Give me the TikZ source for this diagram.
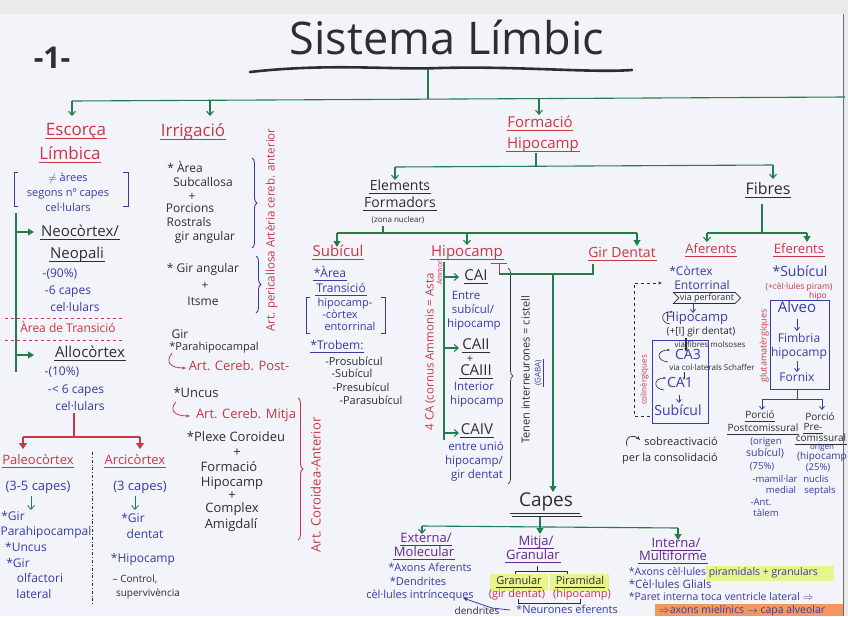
\documentclass[tikz,border=0pt]{standalone}
\usepackage{fontspec}
\setmainfont{Open Sans}
\usetikzlibrary{arrows.meta,decorations.pathreplacing,shapes.symbols}
\definecolor{rd}{RGB}{200,55,70}
\definecolor{bl}{RGB}{55,60,165}
\definecolor{gn}{RGB}{35,125,75}
\definecolor{bk}{RGB}{45,45,50}
\definecolor{pu}{RGB}{95,40,140}
\definecolor{paper}{RGB}{243,243,250}
\definecolor{edgeg}{RGB}{232,234,236}
\definecolor{hl}{RGB}{232,245,140}
\definecolor{og}{RGB}{245,150,95}
\newcommand\fsz[1]{\fontsize{#1}{#1}\selectfont}
\begin{document}
\begin{tikzpicture}[x=1pt,y=-1pt,
  base/.style={inner sep=0.6pt, text height=.72em, text depth=.2em},
  tR/.style={base,text=rd}, tB/.style={base,text=bl}, tK/.style={base,text=bk}, tP/.style={base,text=pu},
  ul/.style={append after command={(\tikzlastnode.south west) edge[draw=#1,line width=.7pt] (\tikzlastnode.south east)}},
  gl/.style={draw=gn,line width=1.1pt},
  ga/.style={gl,-{Triangle[length=6pt,width=7pt]}},
  gao/.style={gl,-{Straight Barb[length=4pt,width=7pt]}},
  rl/.style={draw=rd,line width=1.1pt},
  ra/.style={rl,-{Triangle[length=6pt,width=8pt]}},
  bln/.style={draw=bl,line width=.8pt},
  bla/.style={bln,-{Straight Barb[length=3pt,width=5pt]}},
  kln/.style={draw=bk,line width=.7pt},
  ka/.style={kln,-{Straight Barb[length=3pt,width=5pt]}},
  brR/.style={decorate,decoration={brace,amplitude=5pt},line width=.9pt},
]
\useasboundingbox (0,0) rectangle (848,616);
\fill[edgeg] (0,0) rectangle (848,616);
\fill[paper] (0,14) rectangle (843,616);
\draw[bk!70,line width=1pt] (843,14) -- (843,616);

% ---------- title ----------
\node[tK,font=\fsz{45}] (title) at (447,52) {Sistema Límbic};
\node[tK,font=\bfseries\fsz{30}] (one) at (52,66) {-1-};
\draw[bk,line width=2.6pt,line cap=round] (250,72) .. controls (330,63) and (390,70) .. (440,68) .. controls (520,66) and (590,73) .. (632,70);
\coordinate (t0) at (428,69);
\coordinate (t1) at (428,99);
\draw[gl] (t0) -- (t1);
\draw[gl] (72,101) -- (845,97);
\draw[gao] (72,101) -- (72,116);
\draw[gao] (210,100) -- (210,116);
\draw[gao] (539,98) -- (539,115);

% ---------- Escorça límbica ----------
\node[tR,font=\fsz{17},ul=rd] (escA) at (76,133) {Escorça};
\node[tR,font=\fsz{17},ul=rd] (escB) at (70,157) {Límbica};
\node[tB,font=\fsz{11}] (ar1) at (68,179) {$\neq$ àrees};
\node[tB,font=\fsz{11}] (ar2) at (68,194) {segons nº capes};
\node[tB,font=\fsz{11}] (ar3) at (68,209) {cel·lulars};
\draw[bln] (18,172) -- (14,172) -- (14,206) -- (18,206);
\draw[bln] (123,172) -- (128,172) -- (128,206) -- (123,206);
\draw[gl] (16,213) -- (16,372);
\draw[ga] (16,232) -- (34,232);
\draw[ga] (16,355) -- (34,355);
\node[tK,font=\fsz{15},ul=bk] (neo1) at (80,234) {Neocòrtex/};
\node[tK,font=\fsz{15},ul=bk] (neo2) at (77,256) {Neopali};
\node[tB,font=\fsz{12}] (n90) at (60,275) {-(90\%)};
\node[tB,font=\fsz{12}] (n6) at (68,292) {-6 capes};
\node[tB,font=\fsz{12}] (n6b) at (75,309) {cel·lulars};
\draw[rl,dashed,line width=.9pt] (5,318) -- (125,318);
\draw[rl,dashed,line width=.9pt] (5,340) -- (125,340);
\node[tR,font=\fsz{12}] (trans) at (68,330) {Àrea de Transició};
\node[tK,font=\fsz{15},ul=bk] (allo) at (90,355) {Allocòrtex};
\node[tB,font=\fsz{12}] (n10) at (62,373) {-(10\%)};
\node[tB,font=\fsz{12}] (nl6) at (76,391) {-< 6 capes};
\node[tB,font=\fsz{12}] (nl6b) at (80,408) {cel·lulars};
\draw[rl] (74,413) -- (74,437);
\draw[rl] (23,437) -- (140,437);
\draw[ra] (23,437) -- (23,449);
\draw[ra] (140,437) -- (140,449);
\node[tR,font=\fsz{13},ul=rd] (paleo) at (38,462) {Paleocòrtex};
\node[tB,font=\fsz{13}] (pal3) at (38,488) {(3-5 capes)};
\draw[gao,line width=.8pt] (31,496) -- (31,510);
\node[tB,font=\fsz{12}] (pg1) at (13,518) {*Gir};
\node[tB,font=\fsz{12}] (pg2) at (46,533) {Parahipocampal};
\node[tB,font=\fsz{12}] (pg3) at (26,549) {*Uncus};
\node[tB,font=\fsz{12}] (pg4) at (18,565) {*Gir};
\node[tB,font=\fsz{12}] (pg5) at (40,580) {olfactori};
\node[tB,font=\fsz{12}] (pg6) at (34,596) {lateral};
\draw[kln,dash dot] (92,452) -- (92,605);
\node[tR,font=\fsz{13},ul=rd] (arci) at (135,462) {Arcicòrtex};
\node[tB,font=\fsz{13}] (arc3) at (140,488) {(3 capes)};
\draw[gao,line width=.8pt] (135,496) -- (135,510);
\node[tB,font=\fsz{12}] (ag1) at (133,520) {*Gir};
\node[tB,font=\fsz{12}] (ag2) at (145,536) {dentat};
\node[tB,font=\fsz{12}] (ag3) at (143,560) {*Hipocamp};
\node[tK,font=\fsz{10}] (ag4) at (135,580) {-- Control,};
\node[tK,font=\fsz{10}] (ag5) at (148,594) {supervivència};

% ---------- Irrigació ----------
\node[tR,font=\fsz{17},ul=rd] (irr) at (193,134) {Irrigació};
\node[tK,font=\fsz{12}] (i1) at (185,170) {* Àrea};
\node[tK,font=\fsz{12}] (i2) at (203,184) {Subcallosa};
\node[tK,font=\fsz{12}] (i3) at (192,198) {+};
\node[tK,font=\fsz{12}] (i4) at (190,210) {Porcions};
\node[tK,font=\fsz{12}] (i5) at (189,224) {Rostrals};
\node[tK,font=\fsz{12}] (i6) at (205,238) {gir angular};
\draw[bl,brR] (252,158) -- (252,248);
\node[tK,font=\fsz{12}] (i7) at (203,270) {* Gir angular};
\node[tK,font=\fsz{12}] (i8) at (205,287) {+};
\node[tK,font=\fsz{12}] (i9) at (203,303) {Itsme};
\draw[bl,brR] (256,256) -- (256,313);
\node[tR,font=\fsz{11.5},rotate=90] (peri) at (272,230) {Art. pericallosa Artèria cereb. anterior};
\node[tK,font=\fsz{12}] (i10) at (180,336) {Gir};
\node[tK,font=\fsz{11}] (i11) at (214,348) {*Parahipocampal};
\draw[rd,line width=.8pt,-{Stealth[length=4pt]}] (172,353) .. controls (165,362) and (170,368) .. (186,368);
\node[tR,font=\fsz{13}] (post) at (239,368) {Art. Cereb. Post-};
\node[tK,font=\fsz{13}] (i12) at (196,395) {*Uncus};
\draw[rd,line width=.8pt,-{Stealth[length=4pt]}] (176,402) .. controls (169,410) and (174,416) .. (190,416);
\node[tR,font=\fsz{13}] (mitja) at (246,416) {Art. Cereb. Mitja};
\node[tK,font=\fsz{13}] (i13) at (236,439) {*Plexe Coroideu};
\node[tK,font=\fsz{13}] (i14) at (237,454) {+};
\node[tK,font=\fsz{13}] (i15) at (229,469) {Formació};
\node[tK,font=\fsz{13}] (i16) at (232,484) {Hipocamp};
\node[tK,font=\fsz{13}] (i17) at (232,497) {+};
\node[tK,font=\fsz{13}] (i18) at (232,510) {Complex};
\node[tK,font=\fsz{13}] (i19) at (231,526) {Amigdalí};
\draw[rd,brR] (298,398) -- (298,540);
\node[tR,font=\fsz{13},rotate=90] (coro) at (318,485) {Art. Coroidea-Anterior};

% ---------- Formació hipocamp ----------
\node[tR,font=\fsz{15},ul=rd] (fh1) at (540,125) {Formació};
\node[tR,font=\fsz{15},ul=rd] (fh2) at (543,146) {Hipocamp};
\draw[gl] (536,153) -- (536,166);
\draw[gl] (395,167) -- (773,165);
\draw[gao] (395,167) -- (395,180);
\draw[gao] (773,165) -- (773,179);
\node[tK,font=\fsz{14},ul=bk] (el1) at (400,188) {Elements};
\node[tK,font=\fsz{14},ul=bk] (el2) at (400,205) {Formadors};
\node[tK,font=\fsz{8}] (el3) at (398,220) {(zona nuclear)};
\node[tK,font=\fsz{16},ul=bk] (fib) at (768,192) {Fibres};
\draw[gl] (383,226) -- (383,233);
\draw[gl] (337,233) -- (637,233);
\draw[ga] (337,233) -- (337,247);
\draw[gao] (467,233) -- (467,245);
\draw[ga] (637,233) -- (637,246);
\draw[gl] (762,204) -- (762,233);
\draw[gl] (707,233) -- (807,233);
\draw[gao] (707,233) -- (707,242);
\draw[ga] (807,233) -- (807,242);

% ---------- Subícul ----------
\node[tR,font=\fsz{15},ul=rd] (sub) at (338,254) {Subícul};
\node[tB,font=\fsz{12},ul=bl] (s1) at (330,275) {*Àrea};
\node[tB,font=\fsz{12},ul=bl] (s2) at (341,290) {Transició};
\node[tB,font=\fsz{11}] (s3) at (345,304) {hipocamp-};
\node[tB,font=\fsz{11}] (s4) at (340,316) {-còrtex};
\node[tB,font=\fsz{11}] (s5) at (350,328) {entorrinal};
\draw[bln] (310,297) -- (306,297) -- (306,333) -- (310,333);
\draw[bln] (381,297) -- (385,297) -- (385,333) -- (381,333);
\node[tB,font=\fsz{12},ul=bl] (s6) at (337,347) {*Trobem:};
\node[tK,font=\fsz{11}] (s7) at (354,363) {-Prosubícul};
\node[tK,font=\fsz{11}] (s8) at (352,375) {-Subícul};
\node[tK,font=\fsz{11}] (s9) at (361,389) {-Presubícul};
\node[tK,font=\fsz{11}] (s10) at (371,402) {-Parasubícul};

% ---------- Hipocamp ----------
\node[tR,font=\fsz{15},ul=rd] (hip) at (467,254) {Hipocamp};
\draw[rl,line width=.8pt] (491,263) -- (507,263);
\draw[rl,line width=.8pt] (499,263) -- (499,275);
\draw[gl] (444,262) -- (444,440);
\draw[gao] (444,277) -- (459,277);
\draw[gao] (444,348) -- (459,348);
\draw[gao] (444,433) -- (459,433);
\node[tR,font=\fsz{11.5},rotate=90] (ca4) at (431,352) {4 CA (cornus Ammonis = Asta};
\node[tR,font=\fsz{7},rotate=90] (ammon) at (439.5,272) {Ammon};
\node[tK,font=\fsz{15},ul=bk] (ca1) at (476,278) {CAI};
\node[tB,font=\fsz{11.5}] (c1) at (466,297) {Entre};
\node[tB,font=\fsz{11.5}] (c2) at (473,311) {subícul/};
\node[tB,font=\fsz{11.5}] (c3) at (474,325) {hipocamp};
\node[tK,font=\fsz{15},ul=bk] (ca2) at (476,347) {CAII};
\node[tK,font=\fsz{11}] (c4) at (470,360) {+};
\node[tK,font=\fsz{15},ul=bk] (ca3) at (476,373) {CAIII};
\node[tB,font=\fsz{11.5}] (c5) at (474,388) {Interior};
\node[tB,font=\fsz{11.5}] (c6) at (477,402) {hipocamp};
\node[tK,font=\fsz{15},ul=bk] (ca4b) at (477,432) {CAIV};
\node[tB,font=\fsz{11.5}] (c7) at (476,448) {entre unió};
\node[tB,font=\fsz{11.5}] (c8) at (474,462) {hipocamp/};
\node[tB,font=\fsz{11.5}] (c9) at (477,476) {gir dentat};
\draw[bk,brR,line width=.7pt] (508,268) -- (508,484);
\node[tK,font=\fsz{11},rotate=90] (ten) at (527,370) {Tenen interneurones = cistell};
\node[tB,font=\fsz{8},rotate=90,ul=bl] (gaba) at (538,373) {(GABA)};

% ---------- Gir dentat ----------
\node[tR,font=\fsz{14},ul=rd] (gd) at (622,255) {Gir Dentat};
\draw[gl] (593,264) -- (593,274) -- (499,274);
\draw[ga] (553,274) -- (553,492);

% ---------- Aferents ----------
\node[tR,font=\fsz{13},ul=rd] (afe) at (711,251) {Aferents};
\node[tR,font=\fsz{13},ul=rd] (efe) at (799,251) {Eferents};
\node[tB,font=\fsz{12}] (a1) at (691,273) {*Còrtex};
\node[tB,font=\fsz{12}] (a2) at (702,287) {Entorrinal};
\node[draw=bk,line width=.7pt,text=bk,font=\fsz{9},shape=signal,signal to=east,signal from=west,inner sep=1pt,minimum height=10pt] (via) at (707,298) {via perforant};
\draw[bla] (693,304) -- (693,313);
\node[tB,font=\fsz{13}] (a3) at (697,319) {Hipocamp};
\draw[bk,line width=.6pt,-{Stealth[length=3pt]}] (670,324) .. controls (660,323) and (660,311) .. (673,312);
\node[tK,font=\fsz{10}] (a4) at (701,332) {(+[I] gir dentat)};
\node[tK,font=\fsz{8}] (a5) at (710,345) {via fibres molsoses};
\draw[bk,line width=1.2pt,-{Stealth[length=4pt]}] (686,338) -- (686,352);
\draw[bln] (652,340) rectangle (708,423);
\node[tB,font=\fsz{14}] (a6) at (688,357) {CA3};
\draw[bk,line width=.6pt,-{Stealth[length=3pt]}] (668,362) .. controls (656,361) and (656,350) .. (670,350);
\node[tK,font=\fsz{8}] (a7) at (712,368) {via col·laterals Schaffer};
\draw[bk,line width=1pt,-{Stealth[length=3pt]}] (684,372) -- (684,380);
\node[tB,font=\fsz{14}] (a8) at (680,385) {CA1};
\draw[bk,line width=.6pt,-{Stealth[length=3pt]}] (664,390) .. controls (653,389) and (653,378) .. (666,378);
\draw[bla] (679,395) -- (679,403);
\node[tB,font=\fsz{14}] (a9) at (678,413) {Subícul};
\node[tR,font=\fsz{8},rotate=90] (colin) at (644,380) {colinèrgiques};
\draw[kln,dashed,-{Stealth[length=4pt,open]}] (650,416) -- (634,416) -- (634,283) -- (662,283);

% ---------- Eferents ----------
\node[tB,font=\fsz{14}] (e1) at (800,274) {*Subícul};
\node[tR,font=\fsz{8.5}] (e2) at (799,287) {(+cèl·lules piram)};
\node[tR,font=\fsz{8.5}] (e3) at (818,296) {hipo};
\draw[bln] (770,300) rectangle (829,389);
\node[tB,font=\fsz{15}] (e4) at (797,310) {Alveo};
\draw[bla] (797,319) -- (797,331);
\node[tB,font=\fsz{12}] (e5) at (799,340) {Fimbria};
\node[tB,font=\fsz{12}] (e6) at (799,354) {hipocamp};
\draw[bla] (797,361) -- (797,372);
\node[tB,font=\fsz{12}] (e7) at (797,379) {Fornix};
\node[tR,font=\fsz{9},rotate=90] (glu) at (764,346) {glutamatèrgiques};
\draw[bln] (797,389) -- (797,399);
\draw[bln] (762,399) -- (822,399);
\draw[bla] (762,399) -- (762,410);
\draw[bla] (822,399) -- (822,410);
\node[tK,font=\fsz{10},ul=bk] (p1) at (760,416) {Porció};
\node[tK,font=\fsz{10},ul=bk] (p2) at (763,429) {Postcomissural};
\node[tB,font=\fsz{9.5}] (p3) at (766,442) {(origen};
\node[tB,font=\fsz{10.5}] (p4) at (765,454) {subícul)};
\node[tB,font=\fsz{9.5}] (p5) at (762,467) {(75\%)};
\node[tB,font=\fsz{9.5}] (p6) at (775,480) {-mamil·lar};
\node[tB,font=\fsz{9.5}] (p7) at (781,491) {medial};
\node[tB,font=\fsz{9.5}] (p8) at (761,503) {-Ant.};
\node[tB,font=\fsz{9.5}] (p9) at (766,514) {tàlem};
\node[tK,font=\fsz{10}] (q1) at (820,418) {Porció};
\node[tK,font=\fsz{10},ul=bk] (q2) at (813,428) {Pre-};
\node[tK,font=\fsz{10},ul=bk] (q3) at (821,439) {comissural};
\node[tB,font=\fsz{8}] (q4) at (822,447) {origen};
\node[tB,font=\fsz{10}] (q5) at (822,457) {(hipocamp};
\node[tB,font=\fsz{9.5}] (q6) at (818,468) {(25\%)};
\node[tB,font=\fsz{9.5}] (q7) at (816,480) {nuclis};
\node[tB,font=\fsz{9.5}] (q8) at (820,491) {septals};
\draw[bk,line width=.7pt,-{Stealth[length=4pt]}] (627,446) .. controls (624,436) and (634,434) .. (640,440);
\node[tK,font=\fsz{11}] (sob1) at (681,443) {sobreactivació};
\node[tK,font=\fsz{11}] (sob2) at (670,459) {per la consolidació};

% ---------- Capes ----------
\node[tK,font=\fsz{19}] (capes) at (546,504) {Capes};
\draw[kln,line width=.8pt] (510,513) -- (580,513);
\draw[kln,line width=.8pt] (512,516) -- (582,516);
\draw[gl] (540,517) -- (540,526);
\draw[gl] (422,526) -- (678,528);
\draw[ga] (540,526) -- (540,534);
\draw[gao] (422,526) -- (422,534);
\draw[ga] (678,528) -- (678,540);
\node[tP,font=\fsz{13},ul=pu] (ex1) at (426,540) {Externa/};
\node[tP,font=\fsz{13},ul=pu] (ex2) at (424,554) {Molecular};
\node[tB,font=\fsz{11}] (ex3) at (430,569) {*Axons Aferents};
\node[tB,font=\fsz{11}] (ex4) at (418,583) {*Dendrites};
\node[tB,font=\fsz{11}] (ex5) at (420,596) {cèl·lules intrínceques};
\node[tP,font=\fsz{13},ul=pu] (mi1) at (536,543) {Mitja/};
\node[tP,font=\fsz{13},ul=pu] (mi2) at (533,557) {Granular};
\draw[kln] (537,566) -- (537,571);
\draw[kln] (515,571) -- (567,571);
\draw[ka] (515,571) -- (515,578);
\draw[ka] (567,571) -- (567,578);
\fill[hl] (490,574) rectangle (548,591);
\fill[hl] (550,574) rectangle (609,591);
\node[tK,font=\fsz{11},ul=bk] (gr) at (519,582) {Granular};
\node[tK,font=\fsz{11},ul=bk] (pir) at (580,582) {Piramidal};
\node[tR,font=\fsz{11}] (gr2) at (517,595) {(gir dentat)};
\node[tR,font=\fsz{11}] (pir2) at (582,595) {(hipocamp)};
\draw[kln] (518,599) -- (518,603) -- (580,603) -- (580,599);
\node[tB,font=\fsz{11}] (neu) at (567,611) {*Neurones eferents};
\node[tK,font=\fsz{10}] (den) at (477,612) {dendrites};
\draw[bl,line width=.8pt,-{Stealth[length=5pt]}] (510,610) -- (492,608) -- (463,598);
\node[tP,font=\fsz{13},ul=pu] (in1) at (676,545) {Interna/};
\node[tP,font=\fsz{13},ul=pu] (in2) at (673,558) {Multiforme};
\fill[hl] (706,566) rectangle (834,581);
\node[tB,font=\fsz{10.5},anchor=west] (in3) at (628,573) {*Axons cèl·lules piramidals + granulars};
\node[tB,font=\fsz{11.5},anchor=west] (in4) at (628,586) {*Cèl·lules Glials};
\node[tB,font=\fsz{10.5},anchor=west] (in5) at (628,598) {*Paret interna toca ventricle lateral $\Rightarrow$};
\fill[og] (655,604) rectangle (843,616);
\node[tB,font=\fsz{10.5},anchor=west] (in6) at (658,611) {$\Rightarrow$axons mielínics $\rightarrow$ capa alveolar};
\end{tikzpicture}
\end{document}
